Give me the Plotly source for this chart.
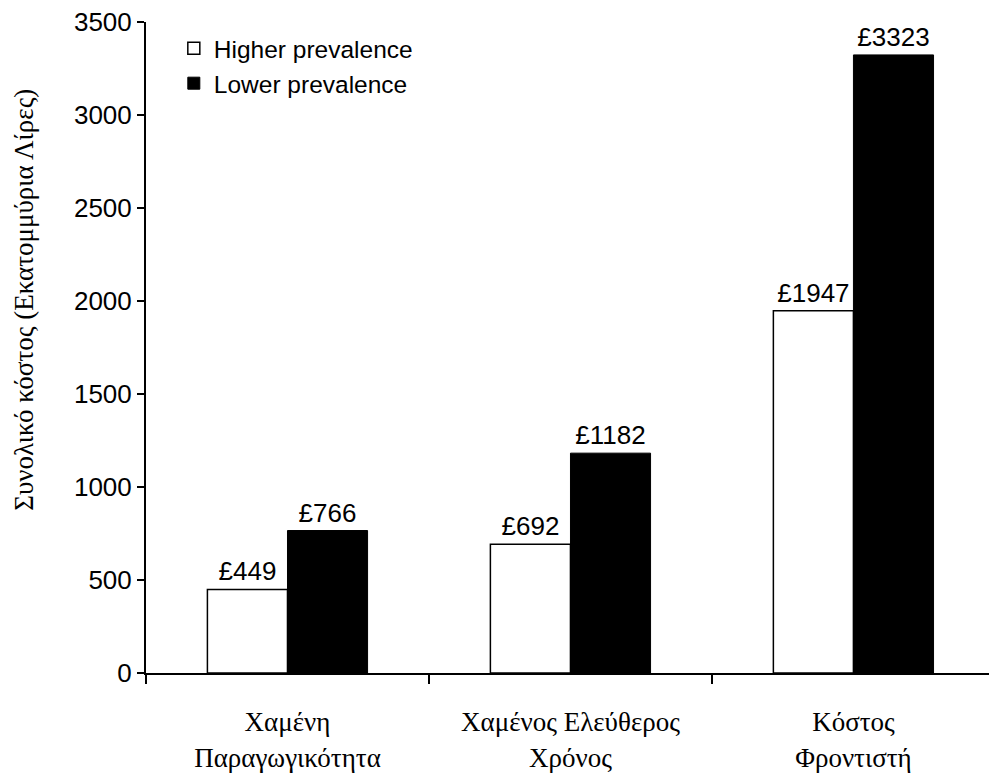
import plotly.graph_objects as go

# Cost categories (two-line Greek labels) and totals in millions of pounds
categories = ["Χαμένη<br>Παραγωγικότητα", "Χαμένος Ελεύθερος<br>Χρόνος", "Κόστος<br>Φροντιστή"]
higher_prevalence = [449, 692, 1947]
lower_prevalence = [766, 1182, 3323]
y_ticks = [0, 500, 1000, 1500, 2000, 2500, 3000, 3500]
y_title = "Συνολικό κόστος (Εκατομμύρια Λίρες)"

positions = list(range(len(categories)))
sans = "Liberation Sans, Arial, sans-serif"
serif = "Liberation Serif, Times New Roman, serif"

fig = go.Figure()
fig.add_trace(go.Bar(
    name="Higher prevalence", x=positions, y=higher_prevalence,
    marker=dict(color="white", line=dict(color="black", width=1.5)),
    texttemplate="£%{y}", textposition="outside", constraintext="none",
    textfont=dict(family=sans, size=26, color="black"), cliponaxis=False,
))
fig.add_trace(go.Bar(
    name="Lower prevalence", x=positions, y=lower_prevalence,
    marker=dict(color="black", line=dict(color="black", width=1)),
    texttemplate="£%{y}", textposition="outside", constraintext="none",
    textfont=dict(family=sans, size=26, color="black"), cliponaxis=False,
))

fig.update_layout(
    width=989, height=773,
    margin=dict(l=146, r=0, t=22, b=97),
    paper_bgcolor="white", plot_bgcolor="white",
    barmode="group", bargap=0.434, bargroupgap=0,
    showlegend=True,
    legend=dict(x=0.033, y=0.994, xanchor="left", yanchor="top",
                font=dict(family=sans, size=24.5, color="black"),
                bgcolor="rgba(0,0,0,0)", tracegroupgap=0,
                itemwidth=30),
    xaxis=dict(
        range=[-0.5, 2.479],
        tickmode="array", tickvals=positions, ticktext=categories,
        ticks="", ticklabelstandoff=24,
        tickfont=dict(family=serif, size=27, color="black"),
        showline=True, linecolor="black", linewidth=2,
        showgrid=False, zeroline=False,
        minor=dict(tickmode="array", tickvals=[-0.5, 0.5, 1.5, 2.5],
                   ticks="outside", ticklen=9, tickwidth=2, tickcolor="black",
                   showgrid=False),
    ),
    yaxis=dict(
        range=[0, 3500],
        tickmode="array", tickvals=y_ticks,
        ticks="outside", ticklen=7, tickwidth=2, tickcolor="black",
        tickfont=dict(family=sans, size=26, color="black"),
        showline=True, linecolor="black", linewidth=2,
        showgrid=False, zeroline=False,
    ),
    annotations=[dict(
        text=y_title, textangle=-90, showarrow=False,
        xref="paper", yref="paper", x=-0.145, y=0.573,
        xanchor="center", yanchor="middle",
        font=dict(family=serif, size=27, color="black"),
    )],
)

fig.write_html("out.html")
